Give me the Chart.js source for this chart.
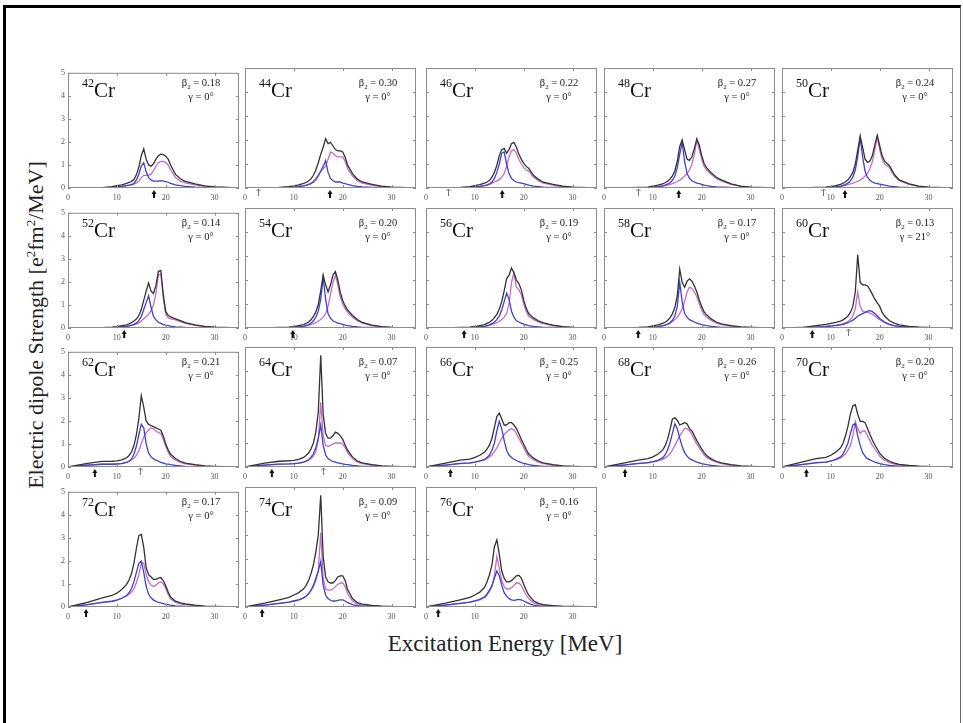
<!DOCTYPE html>
<html>
<head>
<meta charset="utf-8">
<title>E1 strength of Cr isotopes</title>
<script src="https://cdn.jsdelivr.net/npm/chart.js@4.4.1/dist/chart.umd.min.js"></script>
<style>
  body { margin: 0; background: #fff; width: 963px; height: 723px; overflow: hidden; position: relative; }
  #frame { position: absolute; left: 3px; top: 5px; width: 958px; height: 740px; box-sizing: border-box;
           border-top: 3px solid #000; border-left: 3px solid #000; border-right: 1px solid #666; }
  .panel { position: absolute; width: 188px; height: 135px; }
  .panel canvas { position: absolute; left: 0; top: 0; }
  .nuc { position: absolute; left: 28px; top: 15px; font: 21px "Liberation Serif", serif; line-height: 21px; color: #111; white-space: nowrap; }
  .nuc sup { font-size: 12px; vertical-align: 10px; line-height: 0; }
  .def { position: absolute; left: 112px; top: 11px; width: 70px; text-align: center; font: 10.5px "Liberation Serif", serif; line-height: 14px; color: #222; white-space: nowrap; }
  .def sub { font-size: 7px; line-height: 0; }
  .title { position: absolute; font: 22px "Liberation Serif", serif; color: #222; white-space: nowrap; transform: translate(-50%, -50%); }
  #ytitle { left: 36px; top: 325px; transform: translate(-50%, -50%) rotate(-90deg); }
  #xtitle { left: 505px; top: 644px; font-size: 23px; }
  .title sup { font-size: 13px; line-height: 0; }
</style>
</head>
<body>
<div id="frame"></div>
<div id="ytitle" class="title">Electric dipole Strength [e<sup>2</sup>fm<sup>2</sup>/MeV]</div>
<div id="xtitle" class="title">Excitation Energy [MeV]</div>
<script>
// excitation energy grid (MeV) shared by every strength curve
const energy = [0, 4, 7, 9, 10, 11, 12, 12.5, 13, 13.5, 14, 14.5, 15, 15.5, 16, 16.5,
                17, 17.5, 18, 18.5, 19, 19.5, 20, 20.5, 21, 22, 23, 24, 26, 28, 30, 35];

const massNumbers = [42, 44, 46, 48, 50, 52, 54, 56, 58, 60, 62, 64, 66, 68, 70, 72, 74, 76];
const beta2 = ["0.18", "0.30", "0.22", "0.27", "0.24", "0.14", "0.20", "0.19", "0.17",
               "0.13", "0.21", "0.07", "0.25", "0.26", "0.20", "0.17", "0.09", "0.16"];
const gammaDeg = [0, 0, 0, 0, 0, 0, 0, 0, 0, 21, 0, 0, 0, 0, 0, 0, 0, 0];
// bold arrow under the axis, and the thin one where it is drawn
const arrowEnergy = [17.6, 17.4, 15.6, 15.3, 12.9, 11.5, 9.8, 7.8, 7.0, 6.2, 5.5, 5.5, 5.0, 4.3, 5.0, 3.7, 3.5, 2.5];
const thinArrowEnergy = [null, 2.7, 4.5, 7.0, 8.4, null, null, null, null, 13.6, 14.7, 16.0, null, null, null, null, null, null];

const xTicks = [0, 10, 20, 30];
const yTicks = [0, 1, 2, 3, 4, 5];

// strength: total, K=0 and K=1 components
const tot42 = [0, 0, .02, .06, .1, .14, .2, .24, .29, .37, .57, .9, 1.4, 1.7, 1.25, 1.0, .95, 1.05, 1.25, 1.4, 1.47, 1.45, 1.38, 1.25, 1.0, .59, .4, .29, .18, .09, .05, 0];
const k0_42 = [0, 0, .01, .03, .05, .07, .1, .12, .15, .2, .35, .6, .95, 1.1, .7, .45, .35, .3, .3, .3, .32, .3, .28, .25, .2, .14, .1, .07, .04, .02, .01, 0];
const k1_42 = [0, 0, .01, .03, .05, .07, .1, .12, .14, .17, .22, .3, .45, .55, .55, .55, .6, .75, .95, 1.1, 1.15, 1.15, 1.1, 1.0, .8, .45, .3, .22, .14, .07, .04, 0];

const tot44 = [0, 0, .02, .06, .09, .13, .19, .23, .29, .38, .53, .75, 1.05, 1.4, 1.7, 2.05, 1.85, 1.9, 1.75, 1.6, 1.55, 1.55, 1.5, 1.28, .95, .6, .37, .25, .15, .08, .04, 0];
const k0_44 = [0, 0, .01, .03, .04, .06, .09, .11, .14, .18, .25, .35, .5, .7, .9, 1.15, .65, .4, .3, .25, .25, .25, .2, .18, .15, .1, .07, .05, .03, .02, .01, 0];
const k1_44 = [0, 0, .01, .03, .05, .07, .1, .12, .15, .2, .28, .4, .55, .7, .8, .9, 1.2, 1.5, 1.45, 1.35, 1.3, 1.3, 1.3, 1.1, .8, .5, .3, .2, .12, .06, .03, 0];

const tot46 = [0, 0, .02, .06, .1, .14, .2, .25, .32, .45, .65, .95, 1.35, 1.6, 1.65, 1.45, 1.6, 1.85, 1.9, 1.7, 1.42, 1.2, 1.03, .9, .82, .53, .36, .24, .15, .08, .04, 0];
const k0_46 = [0, 0, .01, .03, .05, .07, .1, .13, .17, .25, .4, .65, 1.0, 1.45, 1.5, 1.0, .6, .4, .3, .25, .22, .2, .18, .15, .12, .08, .06, .04, .03, .02, .01, 0];
const k1_46 = [0, 0, .01, .03, .05, .07, .1, .12, .15, .2, .25, .3, .35, .45, .6, .9, 1.3, 1.55, 1.6, 1.45, 1.2, 1.0, .85, .75, .7, .45, .3, .2, .12, .06, .03, 0];

const tot48 = [0, 0, .02, .04, .08, .12, .17, .22, .28, .37, .5, .72, 1.12, 1.73, 2.0, 1.6, 1.2, 1.15, 1.3, 1.65, 2.05, 1.78, 1.35, 1.02, .85, .62, .45, .34, .17, .08, .04, 0];
const k0_48 = [0, 0, .01, .02, .04, .06, .09, .12, .16, .22, .32, .5, .85, 1.4, 1.9, 1.1, .6, .4, .3, .25, .2, .18, .15, .12, .1, .07, .05, .04, .02, .01, .01, 0];
const k1_48 = [0, 0, .01, .02, .04, .06, .08, .1, .12, .15, .18, .22, .27, .33, .4, .5, .6, .75, 1.0, 1.4, 2.0, 1.6, 1.2, .9, .75, .55, .4, .3, .15, .07, .03, 0];

const tot50 = [0, 0, .02, .04, .06, .1, .15, .2, .26, .34, .47, .65, .99, 1.58, 2.15, 1.7, 1.2, 1.07, 1.12, 1.35, 1.8, 2.2, 1.76, 1.34, 1.12, .93, .56, .34, .17, .08, .04, 0];
const k0_50 = [0, 0, .01, .02, .03, .05, .08, .11, .15, .2, .3, .45, .75, 1.3, 2.1, 1.3, .7, .45, .32, .25, .2, .18, .16, .14, .12, .08, .06, .04, .02, .01, .01, 0];
const k1_50 = [0, 0, .01, .02, .03, .05, .07, .09, .11, .14, .17, .2, .24, .28, .33, .4, .5, .62, .8, 1.1, 1.6, 2.1, 1.6, 1.2, 1.0, .85, .5, .3, .15, .07, .03, 0];

const tot52 = [0, 0, .02, .04, .06, .1, .14, .18, .23, .3, .39, .54, .8, 1.2, 1.6, 1.95, 1.6, 1.5, 1.85, 2.45, 2.5, 1.45, .72, .55, .48, .4, .32, .23, .14, .07, .04, 0];
const k0_52 = [0, 0, .01, .02, .03, .05, .07, .09, .12, .16, .22, .32, .5, .8, 1.1, 1.4, .9, .5, .35, .25, .2, .15, .12, .1, .08, .05, .04, .03, .02, .01, .01, 0];
const k1_52 = [0, 0, .01, .02, .03, .05, .07, .09, .11, .14, .17, .22, .3, .4, .5, .6, .75, 1.0, 1.5, 2.3, 2.35, 1.3, .6, .45, .4, .35, .28, .2, .12, .06, .03, 0];

const tot54 = [0, 0, .02, .04, .06, .1, .14, .19, .25, .34, .48, .67, .98, 1.55, 2.2, 1.8, 1.5, 1.8, 2.2, 2.35, 2.0, 1.48, 1.15, .92, .75, .52, .35, .23, .12, .06, .03, 0];
const k0_54 = [0, 0, .01, .02, .03, .05, .07, .1, .14, .2, .3, .45, .7, 1.2, 2.1, 1.2, .6, .4, .3, .25, .2, .18, .15, .12, .1, .07, .05, .03, .02, .01, .01, 0];
const k1_54 = [0, 0, .01, .02, .03, .05, .07, .09, .11, .14, .18, .22, .28, .35, .45, .6, .9, 1.4, 1.9, 2.2, 1.8, 1.3, 1.0, .8, .65, .45, .3, .2, .1, .05, .02, 0];

const tot56 = [0, 0, .02, .04, .06, .1, .14, .19, .24, .32, .43, .57, .78, 1.1, 1.55, 2.05, 2.2, 2.5, 2.3, 2.0, 1.85, 1.6, 1.16, .83, .6, .42, .3, .21, .12, .06, .03, 0];
const k0_56 = [0, 0, .01, .02, .03, .05, .07, .1, .13, .18, .25, .35, .5, .75, 1.1, 1.45, 1.2, .7, .45, .3, .25, .2, .16, .13, .1, .07, .05, .03, .02, .01, .01, 0];
const k1_56 = [0, 0, .01, .02, .03, .05, .07, .09, .11, .14, .18, .22, .28, .35, .45, .6, 1.0, 1.9, 2.3, 1.7, 1.6, 1.4, 1.0, .7, .5, .35, .25, .18, .1, .05, .02, 0];

const tot58 = [0, 0, .02, .05, .09, .13, .19, .24, .31, .42, .59, .85, 1.35, 2.45, 1.9, 1.7, 1.95, 2.05, 1.95, 1.75, 1.5, 1.17, .89, .67, .55, .37, .25, .17, .1, .05, .03, 0];
const k0_58 = [0, 0, .01, .02, .04, .06, .09, .12, .16, .22, .32, .5, .9, 1.9, 1.1, .6, .45, .35, .3, .25, .2, .17, .14, .12, .1, .07, .05, .03, .02, .01, .01, 0];
const k1_58 = [0, 0, .01, .03, .05, .07, .1, .12, .15, .2, .27, .35, .45, .6, .8, 1.1, 1.5, 1.7, 1.65, 1.5, 1.3, 1.0, .75, .55, .45, .3, .2, .14, .08, .04, .02, 0];

const tot60 = [0, .02, .1, .15, .19, .23, .29, .34, .41, .5, .65, .9, 1.5, 3.05, 1.9, 1.8, 1.8, 1.75, 1.6, 1.4, 1.2, 1.05, .9, .65, .5, .3, .2, .13, .07, .04, .02, 0];
const k0_60 = [0, .01, .04, .06, .08, .1, .13, .15, .18, .22, .27, .33, .4, .5, .55, .6, .65, .7, .72, .68, .6, .5, .4, .32, .25, .15, .1, .07, .04, .02, .01, 0];
const k1_60 = [0, .01, .05, .08, .1, .12, .15, .18, .22, .27, .35, .5, .8, 1.5, .9, .7, .65, .65, .62, .58, .5, .42, .35, .28, .22, .14, .09, .06, .03, .02, .01, 0];

const tot62 = [0, .16, .24, .25, .27, .31, .4, .5, .65, .93, 1.4, 2.1, 3.1, 2.6, 2.0, 1.85, 1.8, 1.75, 1.7, 1.65, 1.6, 1.35, 1.0, .75, .55, .37, .25, .17, .1, .05, .03, 0];
const k0_62 = [0, .08, .12, .12, .13, .15, .2, .25, .35, .55, .9, 1.4, 1.85, 1.7, 1.0, .6, .45, .35, .3, .25, .2, .17, .14, .12, .1, .07, .05, .03, .02, .01, .01, 0];
const k1_62 = [0, .08, .12, .13, .14, .16, .2, .25, .3, .38, .5, .7, 1.0, 1.3, 1.5, 1.6, 1.7, 1.65, 1.55, 1.5, 1.45, 1.2, .9, .65, .45, .3, .2, .14, .08, .04, .02, 0];

const tot64 = [0, .16, .24, .26, .28, .32, .4, .48, .58, .75, 1.0, 1.45, 2.3, 4.65, 2.2, 1.4, 1.2, 1.2, 1.3, 1.45, 1.4, 1.3, 1.15, .92, .7, .42, .25, .17, .1, .05, .03, 0];
const k0_64 = [0, .08, .12, .13, .14, .16, .2, .25, .3, .4, .55, .8, 1.2, 1.75, .9, .5, .35, .28, .23, .2, .17, .15, .13, .11, .1, .07, .05, .03, .02, .01, .01, 0];
const k1_64 = [0, .08, .12, .13, .14, .16, .2, .23, .28, .35, .45, .65, 1.1, 2.7, 1.3, .9, .85, .9, .95, 1.0, 1.0, 1.0, .95, .8, .6, .35, .2, .14, .08, .04, .02, 0];

const tot66 = [0, .16, .29, .33, .4, .49, .62, .75, .92, 1.2, 1.65, 2.1, 2.25, 2.0, 1.75, 1.75, 1.85, 1.85, 1.75, 1.6, 1.4, 1.15, .95, .73, .55, .37, .25, .17, .1, .05, .03, 0];
const k0_66 = [0, .08, .15, .17, .2, .25, .32, .4, .5, .7, 1.0, 1.5, 1.9, 1.6, 1.1, .7, .5, .4, .32, .27, .22, .18, .15, .13, .1, .07, .05, .03, .02, .01, .01, 0];
const k1_66 = [0, .08, .14, .16, .2, .24, .3, .35, .42, .5, .65, .8, 1.0, 1.2, 1.35, 1.45, 1.55, 1.6, 1.55, 1.4, 1.2, 1.0, .8, .6, .45, .3, .2, .14, .08, .04, .02, 0];

const tot68 = [0, .16, .29, .35, .42, .53, .7, .88, 1.15, 1.55, 2.0, 2.05, 1.95, 1.75, 1.8, 1.85, 1.8, 1.6, 1.5, 1.3, 1.1, .92, .75, .6, .48, .33, .24, .17, .1, .05, .03, 0];
const k0_68 = [0, .08, .15, .18, .22, .28, .38, .5, .7, 1.0, 1.4, 1.8, 1.6, 1.2, .85, .6, .45, .35, .3, .25, .2, .17, .14, .12, .1, .07, .05, .03, .02, .01, .01, 0];
const k1_68 = [0, .08, .14, .17, .2, .25, .32, .38, .45, .55, .7, .9, 1.1, 1.3, 1.45, 1.6, 1.6, 1.5, 1.35, 1.15, .95, .8, .65, .5, .4, .28, .2, .14, .08, .04, .02, 0];

const tot70 = [0, .2, .35, .4, .49, .62, .8, 1.0, 1.3, 1.7, 2.2, 2.55, 2.6, 2.2, 1.9, 1.9, 1.85, 1.6, 1.35, 1.12, .92, .75, .58, .46, .36, .24, .16, .11, .07, .04, .02, 0];
const k0_70 = [0, .1, .18, .2, .25, .32, .42, .55, .75, 1.0, 1.4, 1.75, 1.8, 1.3, .9, .6, .45, .35, .3, .25, .2, .17, .14, .12, .1, .07, .05, .03, .02, .01, .01, 0];
const k1_70 = [0, .1, .17, .2, .24, .3, .38, .45, .55, .7, .9, 1.3, 1.9, 1.6, 1.4, 1.5, 1.5, 1.3, 1.1, .9, .75, .6, .45, .35, .27, .18, .12, .08, .05, .03, .01, 0];

const tot72 = [0, .2, .4, .5, .6, .76, .98, 1.17, 1.45, 1.9, 2.55, 3.1, 3.15, 2.6, 1.7, 1.4, 1.3, 1.2, 1.2, 1.25, 1.28, 1.15, .92, .65, .43, .25, .18, .13, .08, .04, .03, 0];
const k0_72 = [0, .1, .2, .25, .3, .38, .5, .62, .8, 1.1, 1.5, 1.9, 2.0, 1.5, .9, .55, .4, .3, .25, .2, .18, .15, .12, .1, .08, .05, .04, .03, .02, .01, .01, 0];
const k1_72 = [0, .1, .2, .25, .3, .38, .48, .55, .65, .8, 1.05, 1.4, 1.9, 1.9, 1.4, 1.1, .95, .9, .95, 1.05, 1.1, 1.0, .8, .55, .35, .2, .14, .1, .06, .03, .02, 0];

const tot74 = [0, .16, .3, .4, .5, .6, .76, .9, 1.1, 1.38, 1.75, 2.3, 3.0, 4.65, 2.1, 1.25, 1.05, 1.0, 1.0, 1.1, 1.25, 1.3, 1.3, 1.1, .73, .35, .18, .12, .07, .04, .02, 0];
const k0_74 = [0, .08, .15, .2, .25, .3, .38, .45, .55, .7, .9, 1.2, 1.5, 1.9, .9, .5, .35, .28, .25, .25, .28, .3, .3, .25, .18, .1, .06, .04, .02, .01, .01, 0];
const k1_74 = [0, .08, .15, .2, .25, .3, .38, .45, .55, .68, .85, 1.1, 1.5, 3.1, 1.2, .75, .7, .7, .75, .85, .95, 1.0, 1.0, .85, .55, .25, .12, .08, .05, .03, .01, 0];

const tot76 = [0, .16, .3, .4, .5, .62, .82, 1.05, 1.35, 1.75, 2.5, 2.8, 2.2, 1.5, 1.2, 1.05, 1.05, 1.1, 1.2, 1.3, 1.32, 1.2, .95, .7, .5, .26, .15, .1, .06, .03, .02, 0];
const k0_76 = [0, .08, .15, .2, .25, .32, .42, .55, .7, .9, 1.2, 1.5, 1.3, .9, .6, .45, .35, .3, .28, .3, .32, .3, .25, .2, .15, .08, .05, .03, .02, .01, .01, 0];
const k1_76 = [0, .08, .15, .2, .25, .3, .4, .5, .65, .85, 1.3, 2.1, 1.6, 1.1, .85, .75, .75, .8, .9, 1.0, 1.0, .9, .7, .5, .35, .18, .1, .07, .04, .02, .01, 0];

const totals = [tot42, tot44, tot46, tot48, tot50, tot52, tot54, tot56, tot58,
                tot60, tot62, tot64, tot66, tot68, tot70, tot72, tot74, tot76];
const kZero = [k0_42, k0_44, k0_46, k0_48, k0_50, k0_52, k0_54, k0_56, k0_58,
               k0_60, k0_62, k0_64, k0_66, k0_68, k0_70, k0_72, k0_74, k0_76];
const kOne = [k1_42, k1_44, k1_46, k1_48, k1_50, k1_52, k1_54, k1_56, k1_58,
              k1_60, k1_62, k1_64, k1_66, k1_68, k1_70, k1_72, k1_74, k1_76];

// page grid of the 5 x 4 panels (plot-area corners)
const colLeft = [68, 245, 426, 604, 782];
const rowTop = [68, 208, 347, 487];
const tickFont = { family: "'Liberation Serif', serif", size: 8 };

function toPoints(values) {
  return energy.map((e, i) => ({ x: e, y: values[i] }));
}

// frame, inward tick marks and the threshold arrows under the axis
const panelDecor = {
  id: 'panelDecor',
  afterDraw(chart, args, opts) {
    const { ctx, chartArea: a, scales: { x, y } } = chart;
    ctx.save();
    ctx.strokeStyle = '#8c8c8c';
    ctx.lineWidth = 1;
    ctx.strokeRect(a.left + 0.5, a.top + 0.5, a.width - 1, a.height - 1);
    ctx.beginPath();
    xTicks.forEach(v => {
      const px = Math.round(x.getPixelForValue(v)) + 0.5;
      ctx.moveTo(px, a.bottom); ctx.lineTo(px, a.bottom - 3);
      ctx.moveTo(px, a.top); ctx.lineTo(px, a.top + 3);
    });
    yTicks.forEach(v => {
      const py = Math.round(y.getPixelForValue(v)) + 0.5;
      ctx.moveTo(a.left, py); ctx.lineTo(a.left + 3, py);
      ctx.moveTo(a.right, py); ctx.lineTo(a.right - 3, py);
    });
    ctx.stroke();

    if (opts.arrow != null) {
      const px = x.getPixelForValue(opts.arrow);
      ctx.strokeStyle = '#111';
      ctx.fillStyle = '#111';
      ctx.lineWidth = 2;
      ctx.beginPath();
      ctx.moveTo(px, a.bottom + 10); ctx.lineTo(px, a.bottom + 5);
      ctx.stroke();
      ctx.beginPath();
      ctx.moveTo(px - 2.5, a.bottom + 6); ctx.lineTo(px + 2.5, a.bottom + 6); ctx.lineTo(px, a.bottom + 2);
      ctx.closePath(); ctx.fill();
    }
    if (opts.thin != null) {
      const px = Math.round(x.getPixelForValue(opts.thin)) + 0.5;
      ctx.strokeStyle = '#777';
      ctx.lineWidth = 1;
      ctx.beginPath();
      ctx.moveTo(px, a.bottom + 8); ctx.lineTo(px, a.bottom + 1);
      ctx.moveTo(px - 2, a.bottom + 3); ctx.lineTo(px, a.bottom + 1); ctx.lineTo(px + 2, a.bottom + 3);
      ctx.stroke();
    }
    ctx.restore();
  }
};

massNumbers.forEach((mass, i) => {
  const col = i % 5, row = Math.floor(i / 5);
  const box = document.createElement('div');
  box.className = 'panel';
  box.style.left = (colLeft[col] - 14) + 'px';
  box.style.top = (rowTop[row] - 3) + 'px';
  const canvas = document.createElement('canvas');
  canvas.width = 188;
  canvas.height = 135;
  box.appendChild(canvas);

  const nuc = document.createElement('div');
  nuc.className = 'nuc';
  nuc.innerHTML = '<sup>' + mass + '</sup>Cr';
  box.appendChild(nuc);

  const def = document.createElement('div');
  def.className = 'def';
  def.innerHTML = '\u03b2<sub>2</sub> = ' + beta2[i] + '<br>\u03b3 = ' + gammaDeg[i] + '\u00b0';
  box.appendChild(def);
  document.body.appendChild(box);

  new Chart(canvas, {
    type: 'line',
    data: {
      datasets: [
        { label: 'total', data: toPoints(totals[i]), borderColor: '#333333' },
        { label: 'K=0', data: toPoints(kZero[i]), borderColor: '#4040d0' },
        { label: 'K=1', data: toPoints(kOne[i]), borderColor: '#c56ccb' }
      ]
    },
    options: {
      responsive: false,
      animation: false,
      devicePixelRatio: 1,
      layout: { autoPadding: false, padding: { left: 0, top: 3, right: 3, bottom: 0 } },
      elements: { point: { radius: 0 }, line: { tension: 0, borderWidth: 1.3 } },
      plugins: {
        legend: { display: false },
        tooltip: { enabled: false },
        panelDecor: { arrow: arrowEnergy[i], thin: thinArrowEnergy[i] }
      },
      scales: {
        x: {
          type: 'linear', min: 0, max: 35,
          afterBuildTicks: s => { s.ticks = xTicks.map(v => ({ value: v })); },
          afterFit: s => { s.height = 12; },
          grid: { display: false, drawTicks: false },
          border: { display: false },
          ticks: { font: tickFont, color: '#555', padding: 5, maxRotation: 0, autoSkip: false }
        },
        y: {
          min: 0, max: 5,
          afterBuildTicks: s => { s.ticks = yTicks.map(v => ({ value: v })); },
          afterFit: s => { s.width = 14; },
          grid: { display: false, drawTicks: false },
          border: { display: false },
          ticks: { display: col === 0, font: tickFont, color: '#555', padding: 3 }
        }
      }
    },
    plugins: [panelDecor]
  });
});
</script>
</body>
</html>
